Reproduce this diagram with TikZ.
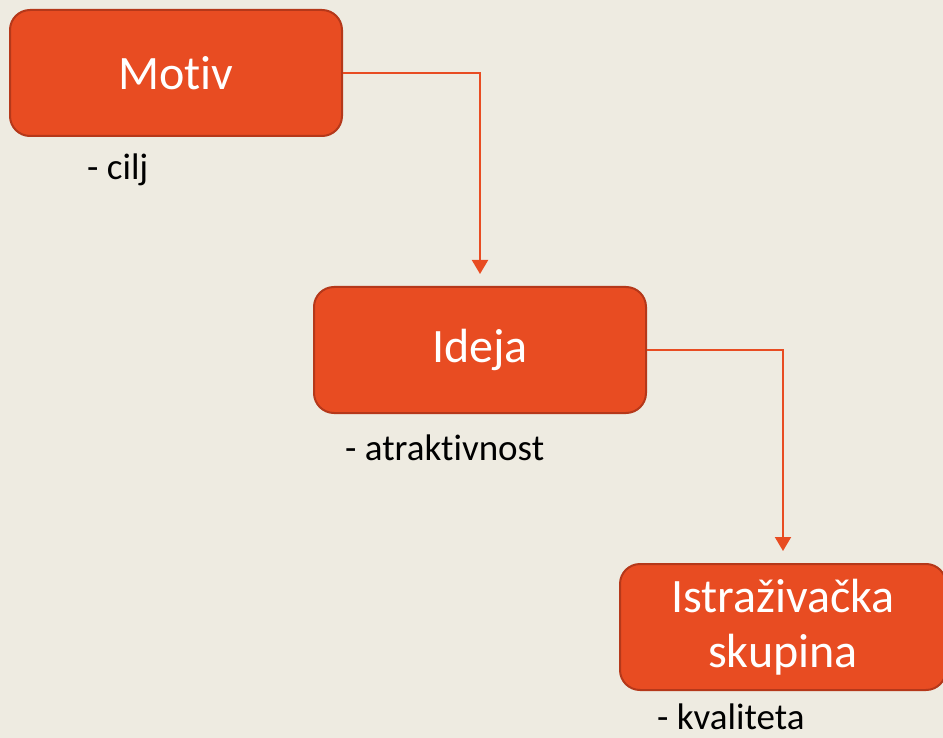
\documentclass[tikz,border=0pt]{standalone}
\usepackage{fontspec}
\setmainfont[Ligatures=NoCommon]{Carlito}
\usetikzlibrary{arrows.meta}
\definecolor{slidebg}{HTML}{EEEBE1}
\definecolor{boxfill}{HTML}{E84C22}
\definecolor{boxline}{HTML}{B5381A}
\tikzset{
  stage/.style={draw=boxline, line width=2pt, fill=boxfill, rounded corners=20pt,
    minimum width=332pt, minimum height=126pt, text=white, align=center,
    font=\fontsize{48}{55}\selectfont, inner sep=0pt},
  note/.style={anchor=base west, text=black, font=\fontsize{37}{44}\selectfont, inner sep=0pt},
  link/.style={draw=boxfill, line width=2pt, -{Triangle[width=16pt,length=14pt]}, shorten >=12pt}
}
\begin{document}
\begin{tikzpicture}[x=1pt,y=-1pt]
  \fill[slidebg] (0,0) rectangle (943,738);
  \useasboundingbox (0,0) rectangle (943,738);
  \node[stage] (motiv) at (176,73) {Motiv};
  \node[stage] (ideja) at (480,350) {Ideja};
  \node[stage, minimum width=326pt] (skupina) at (783,627) {Istraživačka\\skupina};
  \node[note] (cilj) at (87,180) {- cilj};
  \node[note] (atraktivnost) at (345,460) {- atraktivnost};
  \node[note] (kvaliteta) at (657,729) {- kvaliteta};
  \draw[link] (motiv.east) -| (ideja.north);
  \draw[link] (ideja.east) -| (skupina.north);
\end{tikzpicture}
\end{document}
